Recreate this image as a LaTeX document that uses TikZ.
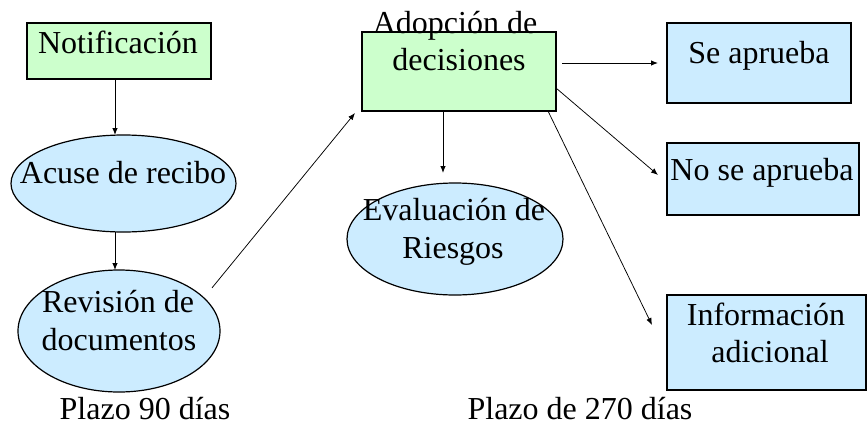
\documentclass[tikz,border=0pt]{standalone}
\usepackage{fontspec}
\setmainfont{Liberation Serif}
\usetikzlibrary{shapes.geometric,arrows.meta}
\definecolor{lgreen}{HTML}{CCFFCC}
\definecolor{lblue}{HTML}{CCECFF}
\begin{document}
\begin{tikzpicture}[x=1pt,y=-1pt,
  every node/.style={font=\fontsize{32}{38}\selectfont, inner sep=0pt, outer sep=0pt},
  gbox/.style={draw=black, line width=1.3pt, fill=lgreen, rectangle},
  bbox/.style={draw=black, line width=1.3pt, fill=lblue, rectangle},
  bell/.style={draw=black, line width=1.2pt, fill=lblue, ellipse},
  lbl/.style={anchor=base},
  arr/.style={-{Latex[length=7pt,width=5.5pt]}, line width=0.9pt},
  thinarr/.style={-{Latex[length=7pt,width=5.5pt]}, line width=0.75pt}]
\useasboundingbox (0,0) rectangle (868,424);
% shapes
\node[gbox, minimum width=184pt, minimum height=56pt] (notif) at (119,51) {};
\node[bell, minimum width=225pt, minimum height=97pt] (acuse) at (123.5,183.5) {};
\node[bell, minimum width=202pt, minimum height=122pt] (revision) at (119,331) {};
\node[gbox, minimum width=194pt, minimum height=79pt] (adop) at (459,71.5) {};
\node[bell, minimum width=216pt, minimum height=112pt] (eval) at (455,239) {};
\node[bbox, minimum width=184pt, minimum height=80pt] (seap) at (759,63) {};
\node[bbox, minimum width=192pt, minimum height=72pt] (nose) at (763,179) {};
\node[bbox, minimum width=199pt, minimum height=95pt] (info) at (766.5,342.5) {};
% labels
\node[lbl] (tnotif) at (118,53) {Notificación};
\node[lbl] (tacuse) at (123,183) {Acuse de recibo};
\node[lbl] (trev1) at (118,312) {Revisión de};
\node[lbl] (trev2) at (119,350) {documentos};
\node[lbl] (tplazo1) at (145,419) {Plazo 90 días};
\node[lbl] (tadop1) at (455,33) {Adopción de};
\node[lbl] (tadop2) at (459,70) {decisiones};
\node[lbl] (teval1) at (454,220) {Evaluación de};
\node[lbl] (teval2) at (453,258) {Riesgos};
\node[lbl] (tseap) at (759,63) {Se aprueba};
\node[lbl] (tnose) at (762,180) {No se aprueba};
\node[lbl] (tinfo1) at (766,325) {Información};
\node[lbl] (tinfo2) at (770,362) {adicional};
\node[lbl] (tplazo2) at (580,419) {Plazo de 270 días};
% connectors
\draw[arr] ([xshift=-4pt]notif.south) -- ([xshift=-8.5pt]acuse.north);
\draw[arr] ([xshift=-8.5pt]acuse.south) -- ([xshift=-4pt]revision.north);
\draw[thinarr] ([xshift=21.6pt]revision.north east) -- ([xshift=-7pt,yshift=-2pt]adop.south west);
\draw[arr, shorten >=10pt] ([xshift=-16pt]adop.south) -- ([xshift=-12pt]eval.north);
\draw[arr] ([xshift=6pt,yshift=8.5pt]adop.east) -- ([xshift=-9pt]seap.west);
\draw[thinarr] ([yshift=23pt]adop.south east) -- ([xshift=-9pt,yshift=4pt]nose.west);
\draw[thinarr] ([xshift=-8pt]adop.south east) -- ([xshift=-15pt,yshift=17.5pt]info.west);
\end{tikzpicture}
\end{document}
